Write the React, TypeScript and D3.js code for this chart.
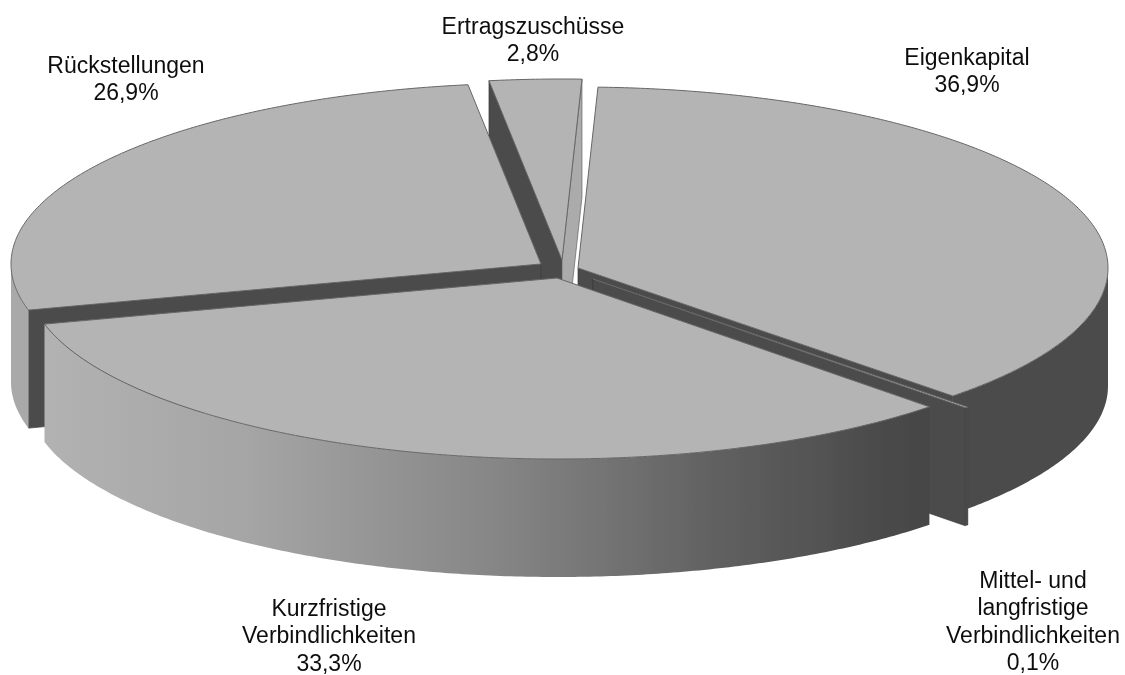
import React from "react";
import * as d3 from "d3";

const categories = ["Eigenkapital", "Mittel- und langfristige Verbindlichkeiten", "Kurzfristige Verbindlichkeiten", "Rückstellungen", "Ertragszuschüsse"];
const shares = [36.9, 0.1, 33.3, 26.9, 2.8];
const shareLabels = ["36,9%", "0,1%", "33,3%", "26,9%", "2,8%"];
const labelLines = [
  ["Eigenkapital"],
  ["Mittel- und", "langfristige", "Verbindlichkeiten"],
  ["Kurzfristige", "Verbindlichkeiten"],
  ["Rückstellungen"],
  ["Ertragszuschüsse"],
];

// layout
const W = 1125, H = 675;
const RX = 530, RY = 181, DEPTH = 118;
const START_DEG = 2.16;
const centers: [number, number][] = [[578, 268], [593, 279], [557, 278], [541, 264], [562, 260]];
const labelPos: [number, number][] = [[967, 65], [1033, 588], [329, 616], [126, 73], [533, 34]];
const labelStep = 27.3;
const drawOrder = [4, 3, 0, 1, 2];
// which faces show: outer wall colour, and the fill of the cut faces at the start / end angle of each slice
const wallFills = ["#4c4c4c", "#4c4c4c", "url(#wallFront)", "#a9a9a9", "none"];
const startFaceFills = ["none", "#4c4c4c", "none", "#4c4c4c", "#4c4c4c"];
const endFaceFills = ["#4c4c4c", "#4c4c4c", "none", "none", "#ababab"];

const TOP = "#b4b4b4", EDGE = "#666";

const pie = d3.pie<number>().sort(null).startAngle((START_DEG * Math.PI) / 180).endAngle((START_DEG * Math.PI) / 180 + 2 * Math.PI);
const arcs = pie(shares);

const unitX = d3.scaleLinear().domain([-1, 1]).range([-RX, RX]);
const unitY = d3.scaleLinear().domain([-1, 1]).range([-RY, RY]);
const line = d3.line<[number, number]>().x((d) => d[0]).y((d) => d[1]);

type P = [number, number];
function rim(c: P, a: number, dy = 0): P {
  return [c[0] + unitX(Math.sin(a)), c[1] + unitY(-Math.cos(a)) + dy];
}
function rimPts(c: P, a0: number, a1: number, dy = 0): P[] {
  const n = Math.max(2, Math.ceil(Math.abs(a1 - a0) / 0.01));
  return d3.range(n + 1).map((i) => rim(c, a0 + ((a1 - a0) * i) / n, dy));
}

function Slice({ i }: { i: number }) {
  const c = centers[i];
  const { startAngle: a0, endAngle: a1 } = arcs[i];
  const down = (p: P): P => [p[0], p[1] + DEPTH];
  const south0 = Math.max(a0, Math.PI / 2);
  const south1 = Math.min(a1, (3 * Math.PI) / 2);
  const wall = south1 > south0 ? [...rimPts(c, south0, south1), ...rimPts(c, south1, south0, DEPTH)] : [];
  const face = (a: number): P[] => [rim(c, a), c, down(c), down(rim(c, a))];
  const top: P[] = [c, ...rimPts(c, a0, a1)];
  return (
    <g>
      {startFaceFills[i] !== "none" && <path d={line(face(a0)) + "Z"} fill={startFaceFills[i]} stroke="#3a3a3a" strokeWidth={0.7} />}
      {endFaceFills[i] !== "none" && <path d={line(face(a1)) + "Z"} fill={endFaceFills[i]} stroke={i === 4 ? EDGE : "#3a3a3a"} strokeWidth={0.7} />}
      {wall.length > 0 && <path d={line(wall) + "Z"} fill={wallFills[i]} stroke="none" />}
      <path d={line(top) + "Z"} fill={TOP} stroke={EDGE} strokeWidth={1} />
    </g>
  );
}

export default function App() {
  return (
    <svg width={W} height={H} viewBox={`0 0 ${W} ${H}`} style={{ position: "absolute", left: 0, top: 0, background: "#fff" }}>
      <defs>
        <linearGradient id="wallFront" gradientUnits="userSpaceOnUse" x1={45} x2={930} y1={0} y2={0}>
          <stop offset="0" stopColor="#b2b2b2" />
          <stop offset="0.23" stopColor="#a5a5a5" />
          <stop offset="0.51" stopColor="#868686" />
          <stop offset="0.77" stopColor="#5f5f5f" />
          <stop offset="0.966" stopColor="#484848" />
          <stop offset="1" stopColor="#464646" />
        </linearGradient>
        <filter id="soft" x="-2%" y="-2%" width="104%" height="104%">
          <feGaussianBlur stdDeviation="0.5" />
        </filter>
      </defs>
      <g filter="url(#soft)">
        {drawOrder.map((i) => (
          <Slice key={categories[i]} i={i} />
        ))}
      </g>
      <g fontFamily="'Liberation Sans', Arial, sans-serif" fontSize={23} fill="#111" textAnchor="middle" filter="url(#soft)">
        {labelLines.map((lines, i) => (
          <text key={categories[i]} x={labelPos[i][0]} y={labelPos[i][1]}>
            {[...lines, shareLabels[i]].map((t, k) => (
              <tspan key={k} x={labelPos[i][0]} y={labelPos[i][1] + k * labelStep}>
                {t}
              </tspan>
            ))}
          </text>
        ))}
      </g>
    </svg>
  );
}
